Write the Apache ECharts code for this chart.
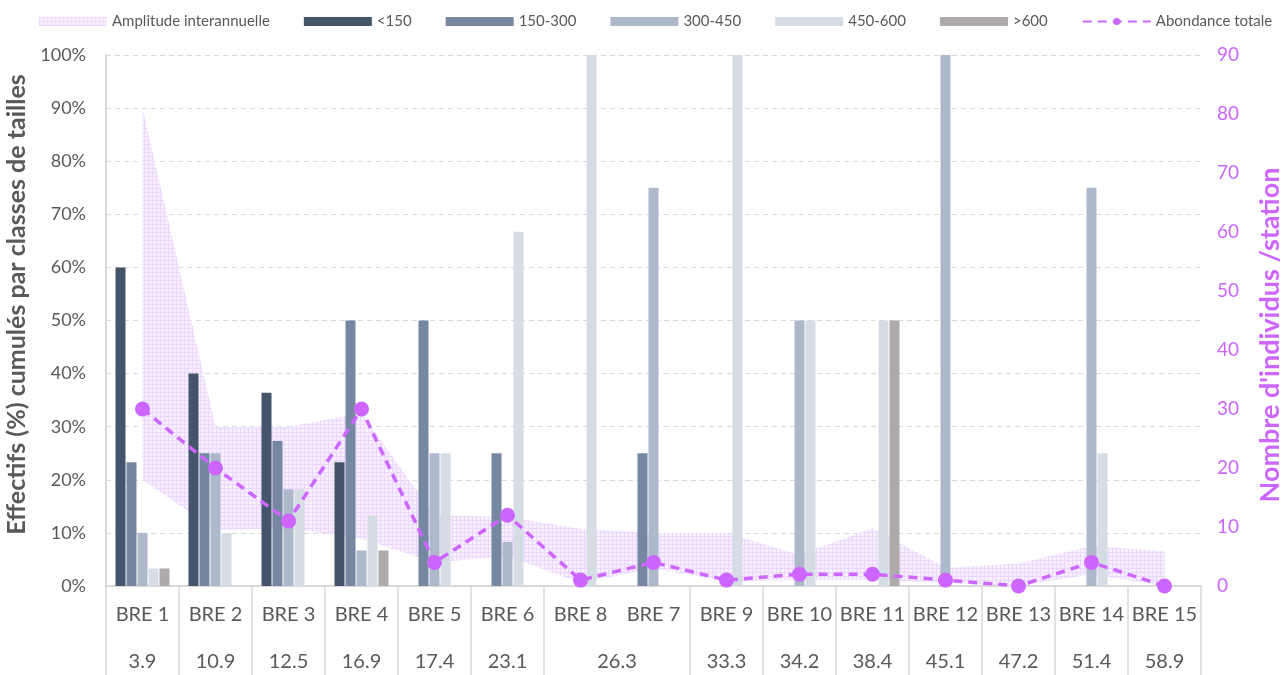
<!DOCTYPE html>
<html>
<head>
<meta charset="utf-8">
<script src="https://cdn.jsdelivr.net/npm/echarts@6/dist/echarts.min.js"></script>
<style>
html,body{margin:0;padding:0;background:#fff;}
#chart{width:1282px;height:675px;}
</style>
</head>
<body>
<div id="chart"></div>
<script>
// ---- Data ----
const stations = ['BRE 1','BRE 2','BRE 3','BRE 4','BRE 5','BRE 6','BRE 8','BRE 7','BRE 9','BRE 10','BRE 11','BRE 12','BRE 13','BRE 14','BRE 15'];
const distances = ['3.9','10.9','12.5','16.9','17.4','23.1','26.3','26.3','33.3','34.2','38.4','45.1','47.2','51.4','58.9'];
const sizeClasses = ['<150','150-300','300-450','450-600','>600'];
const pctLt150   = [60, 40, 36.4, 23.3, 0, 0, 0, 0, 0, 0, 0, 0, 0, 0, 0];
const pct150_300 = [23.3, 25, 27.3, 50, 50, 25, 0, 25, 0, 0, 0, 0, 0, 0, 0];
const pct300_450 = [10, 25, 18.2, 6.7, 25, 8.3, 0, 75, 0, 50, 0, 100, 0, 75, 0];
const pct450_600 = [3.3, 10, 18.2, 13.3, 25, 66.7, 100, 0, 100, 50, 50, 0, 0, 25, 0];
const pctGt600   = [3.3, 0, 0, 6.7, 0, 0, 0, 0, 0, 0, 50, 0, 0, 0, 0];
const abundance  = [30, 20, 11, 30, 4, 12, 1, 4, 1, 2, 2, 1, 0, 4, 0];
const ampLow     = [18, 9.5, 9.8, 8, 4, 5.1, 0.5, 3, 0.8, 1, 1, 0.5, 0, 2, 0];
const ampHigh    = [81, 27, 27, 29.3, 12, 11.7, 9.7, 9, 9, 5.3, 9.8, 3.1, 3.8, 6.8, 5.9];
const leftTicks  = {min: 0, max: 100, interval: 10};
const rightTicks = {min: 0, max: 90, interval: 10};
const leftTitle  = 'Effectifs (%) cumulés par classes de tailles';
const rightTitle = "Nombre d'individus /station";

// ---- Styles ----
const classColors = ['#44546a', '#7587a1', '#adb9ca', '#d6dce4', '#aeaaaa'];
const purple = '#cc66ff';
const txt = '#595959';
const fontFam = 'Lato, "Open Sans", sans-serif';

// checkered lavender pattern
const pc = document.createElement('canvas');
pc.width = 4; pc.height = 4;
const pctx = pc.getContext('2d');
pctx.fillStyle = '#f8f0ff'; pctx.fillRect(0, 0, 4, 4);
pctx.fillStyle = '#ebd6ff'; pctx.fillRect(0, 0, 4, 1); pctx.fillRect(0, 0, 1, 4);
const bandFill = {image: pc, repeat: 'repeat'};

const n = stations.length;
function distLabel(v) {
  const i = Math.floor(v + 1e-9);
  if (Math.abs(v - i - 0.5) < 1e-6) {
    if (i < n && distances[i] !== distances[i - 1] && distances[i] !== distances[i + 1]) return distances[i];
    return '';
  }
  if (i > 0 && i < n && distances[i - 1] === distances[i]) return distances[i];
  return '';
}

const pctSeries = [pctLt150, pct150_300, pct300_450, pct450_600, pctGt600];
const barSeries = sizeClasses.map((name, k) => ({
  name: name,
  type: 'bar',
  data: pctSeries[k],
  barWidth: 10,
  barGap: '10%',
  itemStyle: {color: classColors[k]},
  z: 3
}));

const chart = echarts.init(document.getElementById('chart'), null, {renderer: 'canvas'});
chart.setOption({
  animation: false,
  textStyle: {fontFamily: fontFam},
  legend: {
    top: 9,
    left: 34,
    width: 1260,
    itemWidth: 68,
    itemHeight: 9,
    itemGap: 34,
    textStyle: {color: txt, fontSize: 15, fontFamily: fontFam},
    data: [
      {name: 'Amplitude interannuelle', icon: 'rect', itemStyle: {color: bandFill}},
      ...sizeClasses.map(s => ({name: s, icon: 'rect'})),
      {name: 'Abondance totale'}
    ]
  },
  graphic: [{
    type: 'text',
    x: 1270,
    y: 335,
    rotation: Math.PI / 2,
    style: {
      text: rightTitle,
      fill: purple,
      font: 'bold 27px Lato, "Open Sans", sans-serif',
      align: 'center',
      verticalAlign: 'middle'
    }
  }],
  grid: {left: 106, right: 81, top: 55, bottom: 89, outerBoundsMode: 'none', containLabel: false},
  xAxis: [
    {
      type: 'category',
      data: stations,
      boundaryGap: true,
      axisLine: {show: true, lineStyle: {color: '#d9d9d9', width: 2}},
      axisTick: {
        show: true,
        length: 89,
        interval: (idx) => idx === 0 || distances[idx] !== distances[idx - 1],
        lineStyle: {color: '#d9d9d9', width: 1.5}
      },
      axisLabel: {color: txt, fontSize: 20, margin: 19, interval: 0, fontFamily: fontFam},
      splitLine: {show: false}
    },
    {
      type: 'value',
      min: 0, max: n, interval: 0.5,
      position: 'bottom',
      axisLine: {show: false},
      axisTick: {show: false},
      splitLine: {show: false},
      axisLabel: {
        color: txt, fontSize: 20, margin: 66, fontFamily: fontFam,
        showMinLabel: true, showMaxLabel: true,
        formatter: (v) => distLabel(v)
      }
    }
  ],
  yAxis: [
    {
      type: 'value',
      min: leftTicks.min, max: leftTicks.max, interval: leftTicks.interval,
      name: leftTitle,
      nameLocation: 'middle',
      nameGap: 64,
      nameTextStyle: {color: txt, fontSize: 25, fontWeight: 'bold', fontFamily: fontFam, padding: [0, 0, 0, 32]},
      axisLine: {show: true, lineStyle: {color: '#d9d9d9', width: 2}},
      axisTick: {show: false},
      axisLabel: {color: txt, fontSize: 18, formatter: '{value}%', margin: 20, fontFamily: fontFam},
      splitLine: {show: true, lineStyle: {color: '#d9d9d9', type: [5, 4], width: 1}}
    },
    {
      type: 'value',
      min: rightTicks.min, max: rightTicks.max, interval: rightTicks.interval,
      position: 'right',
      axisLine: {show: false},
      axisTick: {show: false},
      axisLabel: {color: purple, fontSize: 19, margin: 16, fontFamily: fontFam},
      splitLine: {show: false}
    }
  ],
  series: [
    {
      name: 'bandBase',
      type: 'line',
      yAxisIndex: 1,
      stack: 'band',
      data: ampLow,
      symbol: 'none',
      lineStyle: {opacity: 0},
      silent: true,
      z: 1
    },
    {
      name: 'Amplitude interannuelle',
      type: 'line',
      yAxisIndex: 1,
      stack: 'band',
      data: ampHigh.map((h, i) => +(h - ampLow[i]).toFixed(2)),
      symbol: 'none',
      itemStyle: {color: '#ebd6ff'},
      lineStyle: {opacity: 0},
      areaStyle: {color: bandFill, opacity: 1},
      silent: true,
      z: 1
    },
    ...barSeries,
    {
      name: 'Abondance totale',
      type: 'line',
      yAxisIndex: 1,
      data: abundance,
      symbol: 'circle',
      symbolSize: 15,
      itemStyle: {color: purple},
      lineStyle: {color: purple, width: 3.5, type: [9, 6]},
      z: 5
    }
  ]
});
</script>
</body>
</html>
